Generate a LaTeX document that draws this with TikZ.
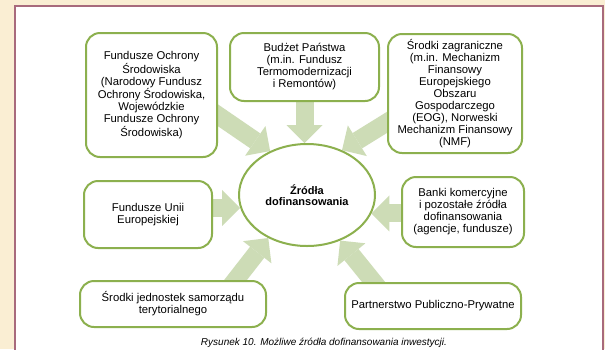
\documentclass[tikz,border=0pt]{standalone}
\usepackage{fontspec}
\setmainfont{Liberation Sans}
\usetikzlibrary{shapes,arrows.meta,backgrounds}

\definecolor{pagebeige}{HTML}{FAEED3}
\definecolor{framerose}{HTML}{A86A7C}
\definecolor{boxgreen}{HTML}{8CB04E}
\definecolor{flowgreen}{HTML}{CDDCB6}

\begin{document}
\begin{tikzpicture}[x=1pt,y=-1pt,
    src/.style={draw=boxgreen, line width=2pt, rounded corners=14pt, fill=white,
      align=center, inner sep=2pt, font=\fontsize{11.3}{12}\selectfont},
    flow/.style={draw=flowgreen, line width=18pt,
      -{Triangle[width=36pt,length=18pt,line width=0pt]}}]
  \useasboundingbox (0,0) rectangle (605,349);

  % centre
  \node[ellipse, draw=boxgreen, line width=2pt, fill=white, minimum width=136pt,
    minimum height=102pt, align=center,
    font=\bfseries\fontsize{11}{11.5}\selectfont] (zr) at (307,195) {Źródła\\dofinansowania};

  % sources
  \node[src, minimum width=131pt, minimum height=124pt] (fos) at (151.5,95)
    {Fundusze Ochrony\\Środowiska\\(Narodowy Fundusz\\Ochrony Środowiska,\\Wojewódzkie\\Fundusze Ochrony\\Środowiska)};
  \node[src, minimum width=149pt, minimum height=68pt] (bud) at (304.5,67)
    {Budżet Państwa\\(m.in. Fundusz\\Termomodernizacji\\i Remontów)};
  \node[src, minimum width=134pt, minimum height=119pt] (zag) at (455,93.5)
    {Środki zagraniczne\\(m.in. Mechanizm\\Finansowy\\Europejskiego\\Obszaru\\Gospodarczego\\(EOG), Norweski\\Mechanizm Finansowy\\(NMF)};
  \node[src, minimum width=128pt, minimum height=67pt] (fue) at (148,214.5)
    {Fundusze Unii\\Europejskiej};
  \node[src, minimum width=122pt, minimum height=70pt] (bank) at (463,212)
    {Banki komercyjne\\i pozostałe źródła\\dofinansowania\\(agencje, fundusze)};
  \node[src, minimum width=186pt, minimum height=46pt] (jst) at (173,304)
    {Środki jednostek samorządu\\terytorialnego};
  \node[src, minimum width=176pt, minimum height=46pt] (ppp) at (433,306)
    {Partnerstwo Publiczno-Prywatne};

  \node[font=\itshape\fontsize{10}{12}\selectfont, anchor=base] (cap) at (324,345)
    {Rysunek 10. Możliwe źródła dofinansowania inwestycji.};

  \begin{scope}[on background layer]
    \fill[pagebeige] (0,0) rectangle (605,349);
    \filldraw[draw=framerose, fill=white, line width=1.5pt] (15,6) rectangle (603,370);
    % arrows into the centre
    \draw[flow, shorten <=-14pt] (fos.-17) -- (zr.130);
    \draw[flow] (bud.center) -- (bud.center |- zr.north);
    \draw[flow, shorten <=-14pt] (zag.203) -- (zr.52);
    \draw[flow] (fue.center |- zr.191) -- (zr.191);
    \draw[flow] (bank.center |- zr.-16) -- (zr.-16);
    \draw[flow, shorten <=-14pt] (jst.21) -- (zr.-132);
    \draw[flow, shorten <=-14pt] (ppp.158) -- (zr.-54);
  \end{scope}
\end{tikzpicture}
\end{document}
